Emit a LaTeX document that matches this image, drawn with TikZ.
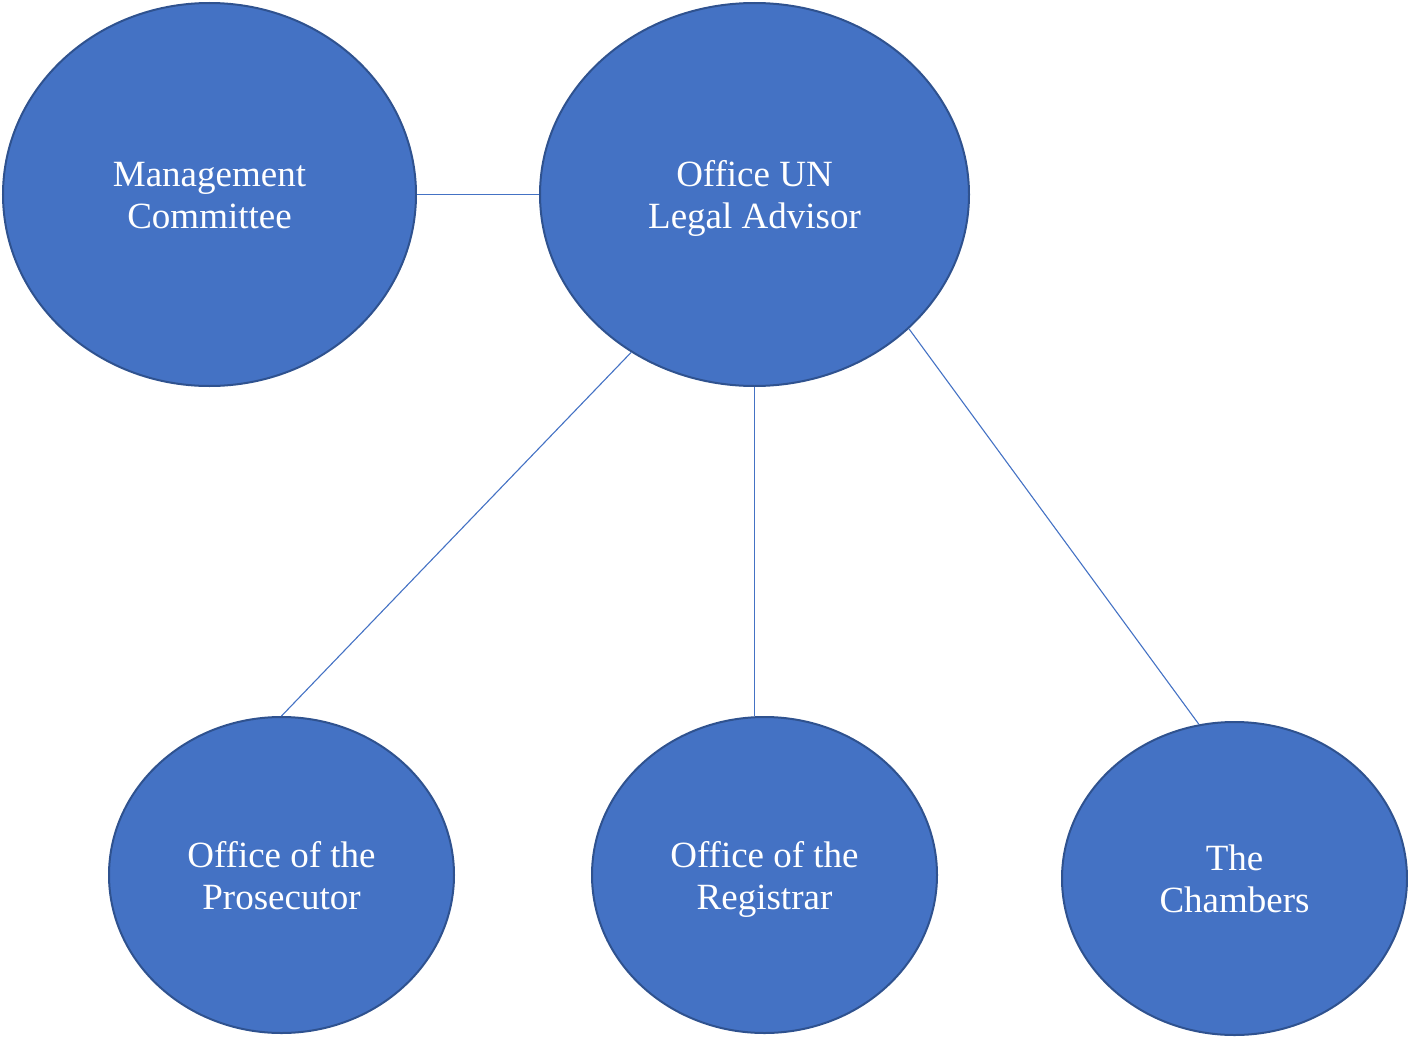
\documentclass[tikz,border=0pt]{standalone}
\usepackage{fontspec}
\setmainfont{Liberation Serif}
\usetikzlibrary{shapes.geometric}
\definecolor{fillblue}{HTML}{4472C4}
\definecolor{edgeblue}{HTML}{2F528F}
\newcommand\topstrut{\rule{0pt}{36pt}}
\newcommand\botstrut{\rule[-10pt]{0pt}{10pt}}
\tikzset{
  unit/.style={ellipse, draw=edgeblue, line width=2pt, fill=fillblue, text=white, inner sep=0pt,
    align=center, font=\fontsize{37}{42}\selectfont},
  link/.style={draw=fillblue, line width=1.1pt}
}
\begin{document}
\begin{tikzpicture}[x=1pt,y=-1pt]
\useasboundingbox (0,0) rectangle (1408,1036);
\node[unit, minimum width=413pt, minimum height=383pt] (mc) at (209.5,194.5) {\topstrut Management\\\botstrut Committee};
\node[unit, minimum width=429pt, minimum height=383pt] (ola) at (754.5,194.5) {\topstrut Office UN\\\botstrut Legal Advisor};
\node[unit, minimum width=345pt, minimum height=316pt] (pro) at (281.5,875) {\topstrut Office of the\\\botstrut Prosecutor};
\node[unit, minimum width=345pt, minimum height=316pt] (reg) at (764.5,875) {\topstrut Office of the\\\botstrut Registrar};
\node[unit, minimum width=345pt, minimum height=313pt] (ch) at (1234.5,878.5) {\topstrut The\\\botstrut Chambers};
\draw[link] (mc.east) -- (ola.west);
\draw[link] (ola.232) -- (pro.north);
\draw[link] (ola.south) -- (ola.south |- reg.north);
\draw[link] (ola.319) -- (ch.103);
\end{tikzpicture}
\end{document}
